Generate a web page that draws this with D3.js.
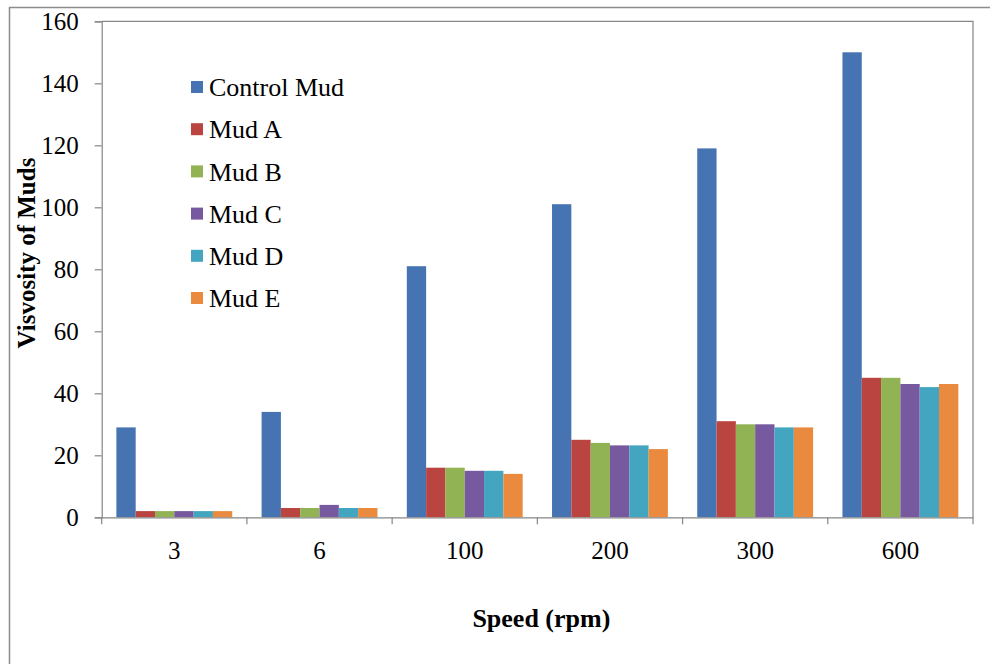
<!DOCTYPE html>
<html>
<head>
<meta charset="UTF-8">
<title></title>
<script src="https://cdn.jsdelivr.net/npm/d3@7"></script>
<style>
  html, body { margin: 0; padding: 0; background: #fff; }
</style>
</head>
<body>
<script>
// 数据
var speeds = ["3", "6", "100", "200", "300", "600"];
var muds = ["Control Mud", "Mud A", "Mud B", "Mud C", "Mud D", "Mud E"];
var controlMud = [29, 34, 81, 101, 119, 150];
var mudA = [2, 3, 16, 25, 31, 45];
var mudB = [2, 3, 16, 24, 30, 45];
var mudC = [2, 4, 15, 23.2, 30, 43];
var mudD = [2, 3, 15, 23.2, 29, 42];
var mudE = [2, 3, 14, 22, 29, 43];
var yTicks = [0, 20, 40, 60, 80, 100, 120, 140, 160];
var colors = ["#4673B1", "#BA443F", "#92B354", "#77599F", "#43A5C0", "#EA8A3E"];

var seriesValues = [controlMud, mudA, mudB, mudC, mudD, mudE];

var width = 990, height = 664;
var plot = {left: 101.7, right: 973, top: 21.3, bottom: 517.3};
var serif = "'Liberation Serif'";

var svg = d3.select("body").append("svg")
  .attr("width", width)
  .attr("height", height);

// 外框（只有上边和左边可见）
svg.append("path")
  .attr("d", "M9.5," + height + "V7.5H" + width)
  .attr("fill", "none")
  .attr("stroke", "#8c8c8c")
  .attr("stroke-width", 1.5);

var x0 = d3.scaleBand().domain(speeds).range([plot.left, plot.right]).padding(0);
var x1 = d3.scaleBand().domain(muds).range([0, x0.bandwidth()])
  .paddingInner(0).paddingOuter(0.76);
var y = d3.scaleLinear().domain([0, 160]).range([plot.bottom, plot.top]);
var color = d3.scaleOrdinal().domain(muds).range(colors);

// 绘图区边框（上、右）
svg.append("path")
  .attr("d", "M" + plot.left + "," + plot.top + "H" + plot.right + "V" + plot.bottom)
  .attr("fill", "none")
  .attr("stroke", "#868686")
  .attr("stroke-width", 1.2);

// 柱形
var groups = svg.selectAll("g.speed")
  .data(speeds)
  .enter().append("g")
  .attr("class", "speed")
  .attr("transform", function(d){ return "translate(" + x0(d) + ",0)"; });

groups.selectAll("rect")
  .data(function(d, i){
    return muds.map(function(m, j){ return {mud: m, value: seriesValues[j][i]}; });
  })
  .enter().append("rect")
  .attr("x", function(d){ return x1(d.mud); })
  .attr("y", function(d){ return y(d.value); })
  .attr("width", x1.bandwidth())
  .attr("height", function(d){ return plot.bottom - y(d.value); })
  .attr("fill", function(d){ return color(d.mud); });

// y轴
var yAxis = svg.append("g")
  .attr("transform", "translate(" + plot.left + ",0)")
  .call(d3.axisLeft(y).tickValues(yTicks).tickSize(7).tickPadding(16));
yAxis.select(".domain").attr("stroke", "#868686").attr("stroke-width", 1.2);
yAxis.selectAll(".tick line").attr("stroke", "#868686").attr("stroke-width", 1.2);
yAxis.selectAll(".tick text")
  .style("font-family", serif)
  .style("font-size", "25px")
  .attr("fill", "#000");

// x轴
var xAxis = svg.append("g")
  .attr("transform", "translate(0," + plot.bottom + ")")
  .call(d3.axisBottom(x0).tickSize(0).tickPadding(24));
xAxis.select(".domain").attr("stroke", "#868686").attr("stroke-width", 1.2);
xAxis.selectAll(".tick text")
  .style("font-family", serif)
  .style("font-size", "25px")
  .attr("fill", "#000");
// 类别分隔刻度
xAxis.selectAll("line.sep")
  .data(speeds.concat(["end"]))
  .enter().append("line")
  .attr("class", "sep")
  .attr("x1", function(d, i){ return i < speeds.length ? x0(d) : plot.right; })
  .attr("x2", function(d, i){ return i < speeds.length ? x0(d) : plot.right; })
  .attr("y1", 0)
  .attr("y2", 7)
  .attr("stroke", "#868686")
  .attr("stroke-width", 1.2);

// 轴标题
svg.append("text")
  .attr("x", (plot.left + plot.right) / 2 + 4)
  .attr("y", 627)
  .attr("text-anchor", "middle")
  .style("font-family", serif)
  .style("font-size", "26px")
  .style("font-weight", "bold")
  .text("Speed (rpm)");

svg.append("text")
  .attr("transform", "translate(35,253) rotate(-90)")
  .attr("text-anchor", "middle")
  .style("font-family", serif)
  .style("font-size", "25px")
  .style("font-weight", "bold")
  .text("Visvosity of Muds");

// 图例
var legend = svg.selectAll("g.legend")
  .data(muds)
  .enter().append("g")
  .attr("class", "legend")
  .attr("transform", function(d, i){ return "translate(191," + (87 + i * 42.2) + ")"; });

legend.append("rect")
  .attr("x", 0)
  .attr("y", -6)
  .attr("width", 12)
  .attr("height", 12)
  .attr("fill", function(d){ return color(d); });

legend.append("text")
  .attr("x", 18)
  .attr("y", 0)
  .attr("dy", "0.35em")
  .style("font-family", serif)
  .style("font-size", "26px")
  .text(function(d){ return d; });
</script>
</body>
</html>
